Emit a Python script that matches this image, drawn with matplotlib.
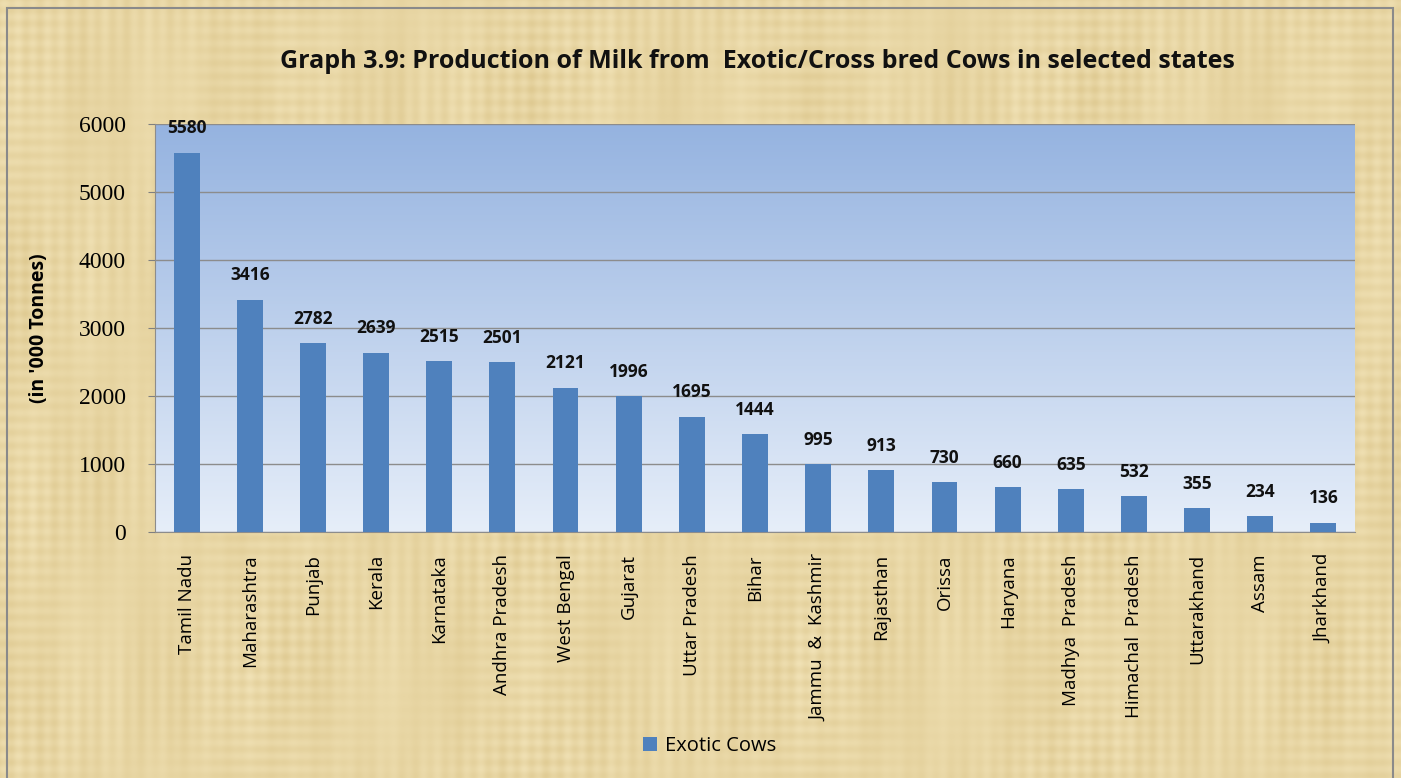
import matplotlib
matplotlib.use("Agg")
import matplotlib.pyplot as plt
import numpy as np
from matplotlib.patches import Rectangle

states = ["Tamil Nadu", "Maharashtra", "Punjab", "Kerala", "Karnataka", "Andhra Pradesh",
          "West Bengal", "Gujarat", "Uttar Pradesh", "Bihar", "Jammu  &  Kashmir", "Rajasthan",
          "Orissa", "Haryana", "Madhya  Pradesh", "Himachal  Pradesh", "Uttarakhand", "Assam", "Jharkhand"]
milk = [5580, 3416, 2782, 2639, 2515, 2501, 2121, 1996, 1695, 1444, 995, 913, 730, 660, 635, 532, 355, 234, 136]
yticks = [0, 1000, 2000, 3000, 4000, 5000, 6000]
title = "Graph 3.9: Production of Milk from  Exotic/Cross bred Cows in selected states"
ylabel = "(in '000 Tonnes)"
series_name = "Exotic Cows"

W, H = 1401, 778
fig = plt.figure(figsize=(W / 100, H / 100), dpi=100)
fig.patch.set_facecolor("#E6D39E")

# parchment-like background (deterministic woven pattern)
bg_ax = fig.add_axes([0, 0, 1, 1])
bg_ax.set_axis_off()
bg_ax.set_zorder(0)
yy, xx = np.mgrid[0:H, 0:W]
tex = (0.35 * np.sin(xx / 2.3) * (0.6 + 0.4 * np.sin(yy / 37.0 + xx / 90.0))
       + 0.35 * np.sin(yy / 2.1) * (0.6 + 0.4 * np.cos(xx / 43.0))
       + 0.25 * np.sin(xx / 23.0 + 0.7) * np.sin(yy / 61.0)
       + 0.15 * np.sin(xx / 7.3 + yy / 150.0))
tex = (tex - tex.min()) / (tex.max() - tex.min())
dark = np.array([0xDF, 0xCA, 0x92]) / 255
light = np.array([0xF1, 0xE2, 0xB6]) / 255
rgb = dark + (light - dark) * tex[..., None]
bg_ax.imshow(rgb, extent=(0, 1, 0, 1), aspect="auto", origin="upper", interpolation="antialiased")
bg_ax.set_xlim(0, 1)
bg_ax.set_ylim(0, 1)
bg_ax.add_patch(Rectangle((7 / W, -0.01), (1393 - 7) / W, 1 - 8 / H + 0.01, fill=False,
                          edgecolor="#8A8A8A", linewidth=1.5))

ax = fig.add_axes([155 / W, 1 - 532 / H, 1200 / W, 408 / H])
ax.set_zorder(2)

x = np.arange(len(states))
ax.set_xlim(-0.5, len(states) - 0.5)
ax.set_ylim(0, 6000)

# gradient plot-area background
grad = np.linspace(0, 1, 256).reshape(-1, 1, 1)
top = np.array([0x95, 0xB3, 0xE0]) / 255
bot = np.array([0xE6, 0xEE, 0xF9]) / 255
img = bot + (top - bot) * grad
ax.imshow(img, aspect="auto", extent=(-0.5, len(states) - 0.5, 0, 6000), origin="lower", zorder=0)

ax.set_yticks(yticks)
ax.yaxis.grid(True, color="#8C8C8C", linewidth=1, zorder=1)
ax.set_axisbelow(True)

bars = ax.bar(x, milk, width=0.41, color="#4F81BD", zorder=3, label=series_name)
for xi, v in zip(x, milk):
    ax.annotate(f"{v}", (xi, v), xytext=(0, 11), textcoords="offset points", ha="center", va="bottom",
                fontsize=12.5, fontweight="bold", family="Open Sans", color="#111111")

ax.set_xticks(x)
ax.set_xticklabels(states, rotation=90, fontsize=13.5, family="Open Sans", va="top")
ax.tick_params(axis="x", length=0, pad=16)
ax.tick_params(axis="y", length=5, color="#7F7F7F", pad=16)
for lab in ax.get_yticklabels():
    lab.set_family("Liberation Serif")
    lab.set_fontsize(17)
for s in ["top", "right"]:
    ax.spines[s].set_visible(False)
ax.spines["left"].set_color("#8C8C8C")
ax.spines["bottom"].set_color("#8C8C8C")

ax.set_ylabel(ylabel, fontsize=14, fontweight="bold", family="Open Sans")
ax.yaxis.set_label_coords((49 - 155) / 1200, (532 - 328) / 408)

fig.text(757 / W, 1 - 62 / H, title, ha="center", va="center", fontsize=18, fontweight="bold",
         family="Open Sans", color="#111111")

fig.legend(handles=[bars], labels=[series_name], loc="center", bbox_to_anchor=(710 / W, 1 - 746 / H),
           frameon=False, handlelength=0.7, handleheight=0.7, handletextpad=0.4,
           prop={"family": "Open Sans", "size": 14.5})

fig.savefig("out.png", dpi=100, facecolor=fig.get_facecolor())
